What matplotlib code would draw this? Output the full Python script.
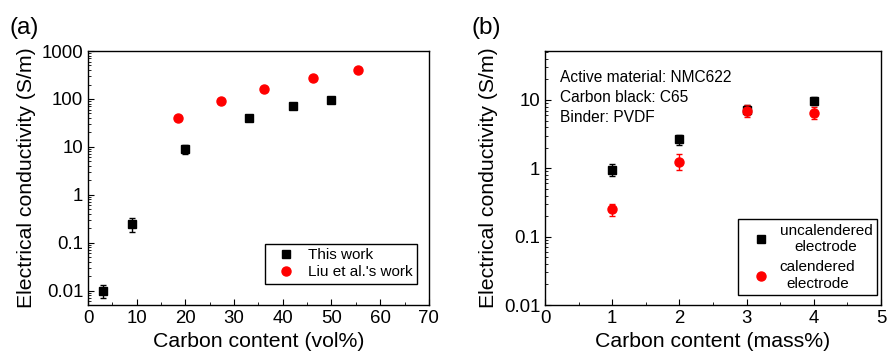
import numpy as np
import matplotlib.pyplot as plt
from matplotlib.lines import Line2D
from matplotlib.ticker import FixedLocator, LogLocator, NullFormatter, MultipleLocator

plt.rcParams["font.family"] = ["Liberation Sans", "DejaVu Sans"]

# panel (a)
vol_this = [3, 9, 20, 33, 42, 50]
cond_this = [0.0098, 0.24, 9.0, 40, 70, 95]
err_lo_this = [0.0028, 0.07, 2.0, 6, 8, 7]
err_hi_this = [0.0032, 0.09, 2.0, 6, 8, 8]
vol_liu = [18.5, 27.3, 36.2, 46.2, 55.5]
cond_liu = [40, 92, 165, 280, 410]

# panel (b)
mass = [1, 2, 3, 4]
cond_uncal = [0.95, 2.7, 7.2, 9.8]
uncal_lo = [0.17, 0.5, 1.2, 1.3]
uncal_hi = [0.2, 0.4, 1.3, 1.2]
cond_cal = [0.25, 1.25, 7.0, 6.5]
cal_lo = [0.05, 0.3, 1.4, 1.3]
cal_hi = [0.05, 0.35, 1.3, 1.5]

fig = plt.figure(figsize=(8.9, 3.58), dpi=100)
ax1 = fig.add_axes([0.0989, 0.148, 0.383, 0.7095])
ax2 = fig.add_axes([0.6124, 0.148, 0.3775, 0.7095])

def style(ax):
    ax.set_yscale("log")
    ax.tick_params(which="both", direction="in", top=False, right=False, labelsize=13.4)
    ax.tick_params(which="major", length=4, width=0.8)
    ax.tick_params(which="minor", length=2, width=0.6)
    ax.yaxis.set_minor_locator(LogLocator(base=10, subs=np.arange(2, 10)))
    ax.yaxis.set_minor_formatter(NullFormatter())
    for s in ax.spines.values():
        s.set_linewidth(1.0)

leg_kw = dict(frameon=True, fancybox=False, edgecolor="black", framealpha=1, fontsize=11,
              borderaxespad=0)

style(ax1)
ax1.errorbar(vol_this, cond_this, yerr=[err_lo_this, err_hi_this], fmt="s", color="black",
             ms=5.3, capsize=2.2, elinewidth=1)
ax1.plot(vol_liu, cond_liu, "o", color="red", ms=6.5)
ax1.set_xlim(0, 70)
ax1.set_ylim(0.005, 1000)
ax1.xaxis.set_major_locator(MultipleLocator(10))
ax1.xaxis.set_minor_locator(MultipleLocator(5))
ax1.yaxis.set_major_locator(FixedLocator([0.01, 0.1, 1, 10, 100, 1000]))
ax1.set_yticklabels(["0.01", "0.1", "1", "10", "100", "1000"])
ax1.set_xlabel("Carbon content (vol%)", fontsize=15.3)
ax1.set_ylabel("Electrical conductivity (S/m)", fontsize=15.3)
h1 = [Line2D([], [], ls="none", marker="s", color="black", ms=5.3),
      Line2D([], [], ls="none", marker="o", color="red", ms=6.5)]
ax1.legend(h1, ["This work", "Liu et al.'s work"], loc="lower right",
           bbox_to_anchor=(0.965, 0.083), borderpad=0.3, handletextpad=0.4,
           labelspacing=0.2, handlelength=2.1, **leg_kw)
fig.text(0.011, 0.905, "(a)", fontsize=17.5)

style(ax2)
ax2.errorbar(mass, cond_uncal, yerr=[uncal_lo, uncal_hi], fmt="s", color="black",
             ms=5.3, capsize=2.2, elinewidth=1)
ax2.errorbar(mass, cond_cal, yerr=[cal_lo, cal_hi], fmt="o", color="red",
             ms=6.5, capsize=2.2, elinewidth=1)
ax2.set_xlim(0, 5)
ax2.set_ylim(0.01, 52)
ax2.xaxis.set_major_locator(MultipleLocator(1))
ax2.xaxis.set_minor_locator(MultipleLocator(0.5))
ax2.yaxis.set_major_locator(FixedLocator([0.01, 0.1, 1, 10]))
ax2.set_yticklabels(["0.01", "0.1", "1", "10"])
ax2.set_xlabel("Carbon content (mass%)", fontsize=15.3)
ax2.set_ylabel("Electrical conductivity (S/m)", fontsize=15.3)
h2 = [Line2D([], [], ls="none", marker="s", color="black", ms=5.3),
      Line2D([], [], ls="none", marker="o", color="red", ms=6.5)]
leg2 = ax2.legend(h2, ["uncalendered\nelectrode", "calendered\nelectrode"], loc="lower right",
                  bbox_to_anchor=(0.988, 0.039), borderpad=0.3, handletextpad=0.1,
                  labelspacing=0.4, handlelength=2.3, **leg_kw)
for t in leg2.get_texts():
    t.set_multialignment("center")
ax2.text(0.045, 0.925, "Active material: NMC622\nCarbon black: C65\nBinder: PVDF",
         transform=ax2.transAxes, fontsize=11.2, va="top", linespacing=1.4)
fig.text(0.53, 0.905, "(b)", fontsize=17.5)

fig.savefig("out.png", dpi=100)
